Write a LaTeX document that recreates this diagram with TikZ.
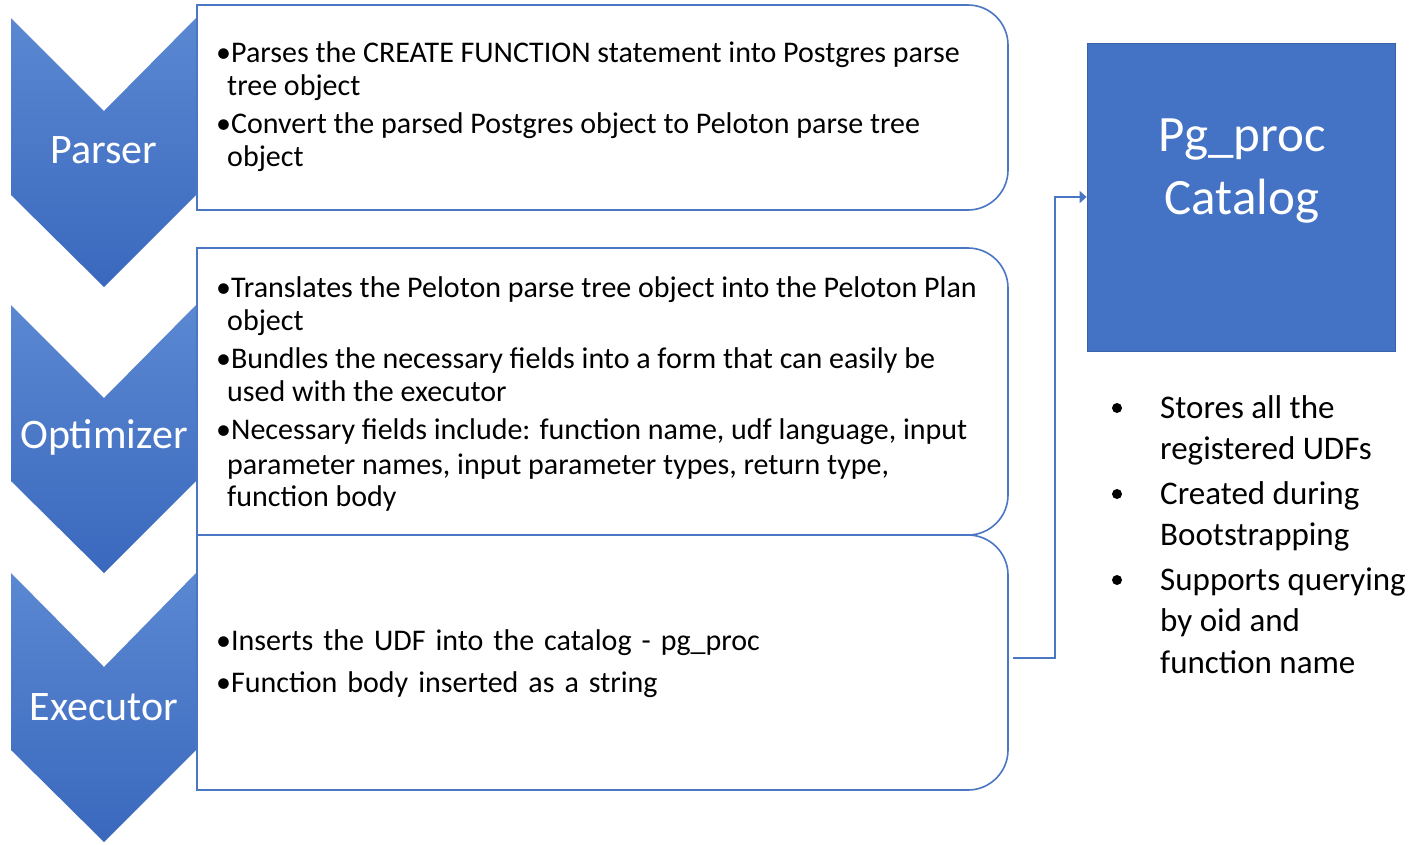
\documentclass[tikz,border=0pt]{standalone}
\usepackage{fontspec}
\setmainfont{Carlito}
\usetikzlibrary{arrows.meta}
\definecolor{chevtop}{HTML}{5B88D2}
\definecolor{chevbot}{HTML}{3A68BD}
\definecolor{boxline}{HTML}{4A76C4}
\definecolor{catfill}{HTML}{4472C4}
\definecolor{catline}{HTML}{3A62AA}
\newcommand\widewords{\spaceskip=10pt\relax}
\tikzset{
  chev/.style={top color=chevtop, bottom color=chevbot},
  chevlabel/.style={text=white, font=\fontsize{42}{46}\selectfont, inner sep=0pt},
  stagebox/.style={draw=boxline, line width=1.6pt},
  line/.style={anchor=base west, inner sep=0pt, font=\fontsize{30}{33}\selectfont},
  rline/.style={anchor=base west, inner sep=0pt, font=\fontsize{33}{41}\selectfont},
  rbullet/.style={circle, fill=black, inner sep=0pt, minimum size=10pt},
  conn/.style={draw=boxline, line width=1.6pt, -{Triangle[length=7pt,width=12pt]}},
}
\begin{document}
\begin{tikzpicture}[x=1pt,y=-1pt]
\useasboundingbox (0,0) rectangle (1418,844);
% chevrons
\shade[chev] (11,18) -- (104,111) -- (196,18) -- (196,195) -- (104,287) -- (11,195) -- cycle;
\shade[chev] (11,305) -- (104,398) -- (196,305) -- (196,481) -- (104,573) -- (11,481) -- cycle;
\shade[chev] (11,573) -- (104,667) -- (196,573) -- (196,750) -- (104,842) -- (11,750) -- cycle;
\node[chevlabel] (parser) at (104,150) {Parser};
\node[chevlabel] (optimizer) at (104,437) {Optimizer};
\node[chevlabel] (executor) at (104,707) {Executor};
% stage boxes
\draw[stagebox] (197,5) -- (968,5) .. controls (990,5) and (1008,23) .. (1008,45) -- (1008,170) .. controls (1008,192) and (990,210) .. (968,210) -- (197,210) -- cycle;
\draw[stagebox] (197,248) -- (968,248) .. controls (990,248) and (1008,266) .. (1008,288) -- (1008,495) .. controls (1008,517) and (990,535) .. (968,535) -- (197,535) -- cycle;
\draw[stagebox] (197,535) -- (968,535) .. controls (990,535) and (1008,553) .. (1008,575) -- (1008,750) .. controls (1008,772) and (990,790) .. (968,790) -- (197,790) -- cycle;
% box 1 text
\node[line] (p1) at (216,62) {•Parses the CREATE FUNCTION statement into Postgres parse};
\node[line] (p2) at (227,95) {tree object};
\node[line] (p3) at (216,133) {•Convert the parsed Postgres object to Peloton parse tree};
\node[line] (p4) at (227,166) {object};
% box 2 text
\node[line] (o1) at (216,297) {•Translates the Peloton parse tree object into the Peloton Plan};
\node[line] (o2) at (227,330) {object};
\node[line] (o3) at (216,368) {•Bundles the necessary fields into a form that can easily be};
\node[line] (o4) at (227,401) {used with the executor};
\node[line] (o5) at (216,439) {•Necessary fields include: function name, udf language, input};
\node[line] (o6) at (227,474) {parameter names, input parameter types, return type,};
\node[line] (o7) at (227,506) {function body};
% box 3 text
\node[line] (e1) at (216,650) {\widewords •Inserts the UDF into the catalog - pg\_proc};
\node[line] (e2) at (216,692) {\widewords •Function body inserted as a string};
% catalog
\node[draw=catline, fill=catfill, line width=0.8pt, minimum width=308pt, minimum height=308pt, inner sep=0pt] (cat) at (1241,197) {};
\node[text=white, font=\fontsize{51}{63}\selectfont, align=center, inner sep=0pt] (catlabel) at (1242,171) {Pg\_proc\\Catalog};
% right bullets
\node[rbullet] (rb1) at (1117,408) {};
\node[rbullet] (rb2) at (1117,494) {};
\node[rbullet] (rb3) at (1117,580) {};
\node[rline] (r1) at (1160,418) {Stores all the};
\node[rline] (r2) at (1160,459) {registered UDFs};
\node[rline] (r3) at (1160,504) {Created during};
\node[rline] (r4) at (1160,545) {Bootstrapping};
\node[rline] (r5) at (1160,590) {Supports querying};
\node[rline] (r6) at (1160,631) {by oid and};
\node[rline] (r7) at (1160,673) {function name};
% connector
\coordinate (b3e) at (1013,658);
\draw[conn] (b3e) -- (1055,658) |- (cat.west);
\end{tikzpicture}
\end{document}
